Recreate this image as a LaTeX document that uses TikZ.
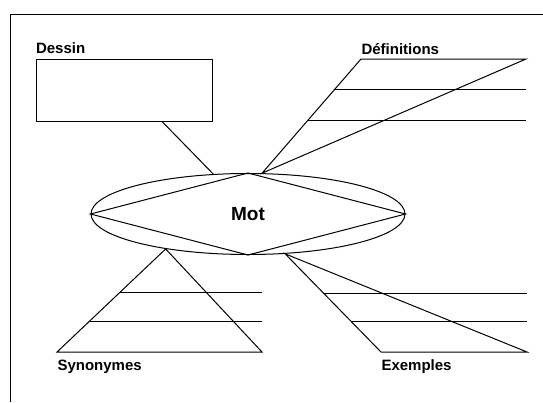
\documentclass[tikz,border=0pt]{standalone}
\usepackage{fontspec}
\setmainfont{Liberation Sans}
\usetikzlibrary{positioning}
\usetikzlibrary{shapes.geometric}
\usetikzlibrary{calc}

\begin{document}
\begin{tikzpicture}[x=1pt, y=-1pt, line width=1pt,
    main/.style = {draw, ellipse, minimum width=314pt, minimum height=81pt, inner sep=0pt, font=\fontsize{19}{22}\selectfont\bfseries},
    box/.style = {draw, rectangle, minimum width=176pt, minimum height=62pt},
    lbl/.style = {inner sep=0pt, anchor=base west, font=\fontsize{15}{18}\selectfont\bfseries}]
    \useasboundingbox (0,0) rectangle (543,402);
    \draw (10,402) -- (10,14) -- (543,14);

    \node[main] (M) at (248,214) {Mot};
    \node[box] (D) at (124,90) {};
    \node[lbl] (DL) at ([yshift=5pt]D.north west) {Dessin};

    \coordinate (A1) at (M.71);
    \coordinate (A2) at (361,59);
    \coordinate (A3) at (526,59);
    \coordinate (S1) at (M.203);
    \coordinate (S2) at (57,352);
    \coordinate (S3) at (262,352);
    \coordinate (E1) at (M.313);
    \coordinate (E2) at (381,352);
    \coordinate (E3) at (527,352);

    \node[lbl] (AL) at ([yshift=5pt]A2) {Définitions};
    \node[lbl] (SL) at ([yshift=-18pt]S2) {Synonymes};
    \node[lbl] (EL) at ([yshift=-18pt]E2) {Exemples};

    \draw (M.west) -- (M.north) -- (M.east) -- (M.south) -- cycle;
    \draw ([xshift=38pt]D.south) -- (M.131.7);

    \draw (A1) -- (A2) -- (A3) -- cycle;
    \draw (S1) -- (S2) -- (S3) -- cycle;
    \draw (E1) -- (E2) -- (E3) -- cycle;

    \foreach \f in {.46,.73}
        \draw ($(A1)!\f!(A2)$) coordinate (p) -- (p -| A3);
    \foreach \f in {.42,.70}
        \draw ($(S1)!\f!(S2)$) coordinate (p) -- (p -| S3);
    \foreach \f in {.40,.69}
        \draw ($(E1)!\f!(E2)$) coordinate (p) -- (p -| E3);

\end{tikzpicture}
\end{document}
